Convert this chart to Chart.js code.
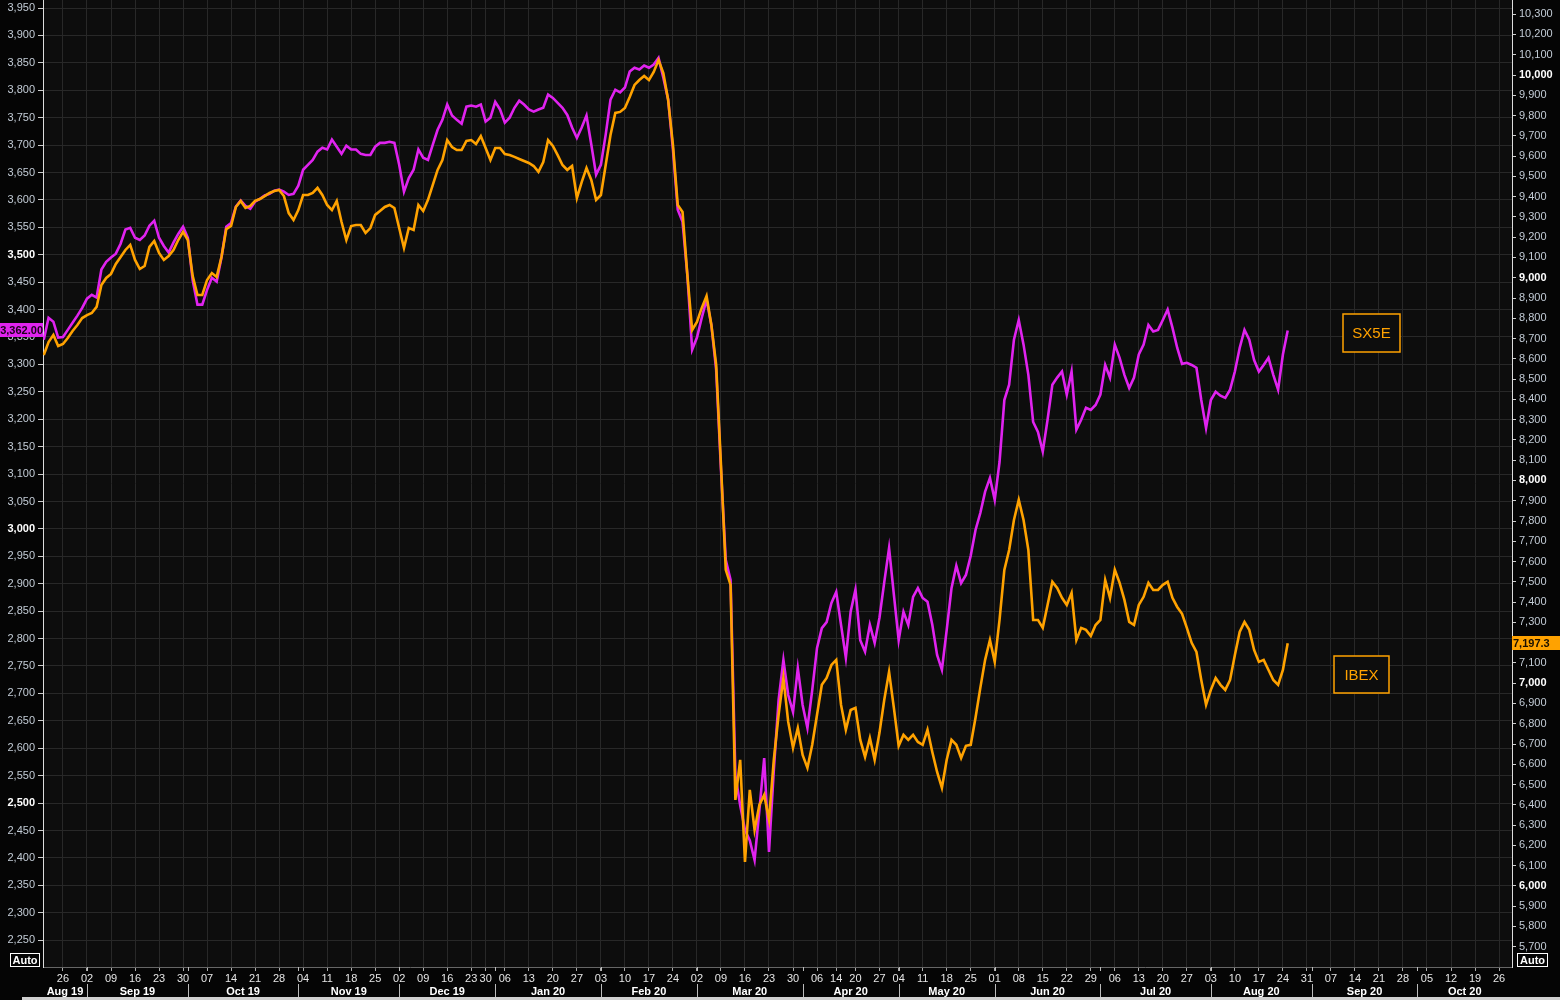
<!DOCTYPE html>
<html>
<head>
<meta charset="utf-8">
<script src="https://cdn.jsdelivr.net/npm/chart.js@4.4.1/dist/chart.umd.min.js"></script>
<style>
  html, body { margin: 0; padding: 0; background: #050505; }
  #wrap { width: 1560px; height: 1000px; }
</style>
</head>
<body>
<div id="wrap"><canvas id="chart" width="1560" height="1000"></canvas></div>
<script>
// x axis = trading-day index, 0 = Mon 26 Aug 2019
const firstDay = -4;

// Euro Stoxx 50 (left axis), one value per trading day from firstDay
const sx5e = [
  3345, 3385, 3378, 3349, 3350, 3363, 3376, 3389, 3403, 3420,
  3427, 3422, 3473, 3487, 3495, 3502, 3520, 3546, 3549, 3531,
  3527, 3535, 3553, 3562, 3531, 3516, 3504, 3522, 3538, 3551,
  3531, 3454, 3409, 3409, 3436, 3458, 3451, 3495, 3551, 3558,
  3588, 3599, 3589, 3584, 3597, 3602, 3608, 3611, 3617, 3619,
  3615, 3609, 3611, 3626, 3655, 3664, 3673, 3688, 3695, 3692,
  3710, 3697, 3684, 3699, 3692, 3692, 3684, 3682, 3682, 3697,
  3704, 3704, 3706, 3704, 3664, 3615, 3640, 3655, 3692, 3677,
  3673, 3701, 3728, 3746, 3774, 3754, 3746, 3739, 3770, 3772,
  3770, 3774, 3743, 3750, 3779, 3765, 3741, 3750, 3768, 3781,
  3774, 3765, 3761, 3765, 3768, 3792, 3786, 3777, 3768, 3755,
  3732, 3713, 3732, 3754, 3701, 3646, 3664, 3719, 3783, 3801,
  3796, 3805, 3834, 3841, 3838, 3845, 3841, 3847, 3859, 3823,
  3783, 3692, 3582, 3560, 3463, 3327, 3349, 3385, 3418, 3372,
  3290, 3108, 2943, 2907, 2551, 2496, 2451, 2432, 2396, 2487,
  2582, 2411, 2560, 2688, 2761, 2697, 2666, 2746, 2679, 2637,
  2706, 2783, 2819, 2830, 2865, 2885, 2825, 2765, 2849, 2889,
  2797, 2776, 2825, 2792, 2838, 2903, 2965, 2880, 2797, 2849,
  2825, 2876, 2892, 2874, 2867, 2825, 2770, 2743, 2816, 2892,
  2933, 2901, 2916, 2951, 2998, 3029, 3068, 3093, 3053, 3122,
  3235, 3263, 3345, 3381, 3336, 3281, 3195, 3177, 3141, 3199,
  3263, 3276, 3287, 3245, 3287, 3181, 3199, 3221, 3217, 3226,
  3245, 3299, 3276, 3336, 3312, 3281, 3257, 3276, 3318, 3336,
  3372, 3360, 3363, 3381, 3400, 3367, 3330, 3301, 3303, 3299,
  3294, 3235, 3184, 3235, 3250, 3243, 3239, 3254, 3287, 3330,
  3363, 3345, 3308, 3287, 3299, 3312, 3281, 3254, 3318, 3362
];

// IBEX 35 (right axis)
const ibex = [
  8619, 8683, 8718, 8663, 8673, 8703, 8737, 8767, 8801, 8816,
  8826, 8856, 8964, 8999, 9019, 9068, 9102, 9137, 9162, 9088,
  9043, 9058, 9152, 9181, 9122, 9088, 9107, 9137, 9186, 9226,
  9186, 9009, 8915, 8915, 8989, 9023, 9004, 9102, 9240, 9255,
  9349, 9379, 9344, 9354, 9379, 9388, 9403, 9418, 9428, 9433,
  9403, 9319, 9285, 9334, 9408, 9408, 9418, 9443, 9408, 9359,
  9334, 9379, 9275, 9186, 9255, 9260, 9260, 9221, 9245, 9310,
  9329, 9349, 9359, 9344, 9245, 9147, 9245, 9236, 9359, 9329,
  9384, 9458, 9532, 9581, 9679, 9645, 9630, 9630, 9675, 9679,
  9660, 9699, 9640, 9581, 9640, 9640, 9610, 9605, 9596, 9586,
  9576, 9566, 9551, 9522, 9571, 9679, 9650, 9605, 9556, 9532,
  9551, 9393, 9472, 9541, 9482, 9384, 9408, 9556, 9704, 9813,
  9818, 9837, 9892, 9951, 9975, 9995, 9975, 10015, 10074, 10010,
  9877, 9655, 9359, 9324, 9014, 8742, 8782, 8851, 8910, 8767,
  8570, 8077, 7559, 7485, 6424, 6622, 6118, 6474, 6276, 6400,
  6449, 6326, 6622, 6844, 7026, 6809, 6681, 6779, 6646, 6582,
  6696, 6844, 6992, 7026, 7090, 7115, 6893, 6770, 6868, 6878,
  6720, 6636, 6730, 6622, 6755, 6918, 7056, 6878, 6691, 6745,
  6720, 6745, 6710, 6696, 6770, 6661, 6562, 6484, 6622, 6720,
  6696, 6631, 6691, 6696, 6829, 6977, 7115, 7213, 7105, 7312,
  7559, 7657, 7805, 7904, 7805, 7657, 7312, 7312, 7273, 7386,
  7500, 7470, 7421, 7386, 7445, 7213, 7273, 7263, 7233, 7287,
  7312, 7509, 7421, 7559, 7495, 7411, 7302, 7287, 7386, 7426,
  7495, 7460, 7460, 7485, 7500, 7421, 7376, 7342, 7273, 7199,
  7154, 7016, 6893, 6967, 7026, 6992, 6967, 7016, 7139, 7253,
  7302, 7263, 7164, 7105, 7115, 7065, 7016, 6992, 7065, 7197.3
];

// weekly ticks (first trading day of each week)
const weekTickDays = [0, 5, 10, 15, 20, 25, 30, 35, 40, 45, 50, 55, 60, 65, 70, 75, 80, 85, 88,
  92, 97, 102, 107, 112, 117, 122, 127, 132, 137, 142, 147, 152, 157, 161, 165, 170, 174, 179,
  184, 189, 194, 199, 204, 209, 214, 219, 224, 229, 234, 239, 244, 249, 254, 259, 264, 269, 274,
  279, 284, 289, 294, 299];
const weekTickLabels = ['26', '02', '09', '16', '23', '30', '07', '14', '21', '28', '04', '11', '18', '25', '02', '09', '16', '23', '30',
  '06', '13', '20', '27', '03', '10', '17', '24', '02', '09', '16', '23', '30', '06', '14', '20', '27', '04', '11',
  '18', '25', '01', '08', '15', '22', '29', '06', '13', '20', '27', '03', '10', '17', '24', '31', '07', '14', '21',
  '28', '05', '12', '19', '26'];

// first trading day of each month, and month names (Aug 19 starts before the chart)
const monthStartDays = [5, 26, 49, 70, 90, 112, 132, 154, 174, 194, 216, 239, 260, 282];
const monthLabels = ['Aug 19', 'Sep 19', 'Oct 19', 'Nov 19', 'Dec 19', 'Jan 20', 'Feb 20', 'Mar 20',
  'Apr 20', 'May 20', 'Jun 20', 'Jul 20', 'Aug 20', 'Sep 20', 'Oct 20'];

const FONT = '"Liberation Sans", Arial, sans-serif';
const MAGENTA = '#e023ef';
const ORANGE = '#ffa200';

const toPoints = arr => arr.map((v, k) => ({ x: firstDay + k, y: v }));
const fmt = v => v.toLocaleString('en-US');

const stepTicks = (from, to, step) => {
  const out = [];
  for (let v = from; v <= to; v += step) out.push({ value: v });
  return out;
};

const overlay = {
  id: 'overlay',
  beforeDraw(chart) {
    const { ctx, chartArea: a } = chart;
    ctx.save();
    ctx.fillStyle = '#050505';
    ctx.fillRect(0, 0, chart.width, chart.height);
    ctx.fillStyle = '#0d0d0d';
    ctx.fillRect(a.left, a.top, a.right - a.left, a.bottom - a.top);
    ctx.restore();
  },
  afterDraw(chart) {
    const { ctx, chartArea: a, scales } = chart;
    const x = scales.x;
    ctx.save();

    // month row
    const bounds = [x.min, ...monthStartDays, x.max];
    ctx.font = 'bold 11px ' + FONT;
    ctx.fillStyle = '#ffffff';
    ctx.textAlign = 'center';
    ctx.textBaseline = 'middle';
    monthLabels.forEach((lab, k) => {
      const x0 = x.getPixelForValue(bounds[k]);
      const x1 = x.getPixelForValue(bounds[k + 1]);
      ctx.fillText(lab, (x0 + x1) / 2, 992);
    });
    ctx.strokeStyle = '#bbbbbb';
    ctx.lineWidth = 1;
    monthStartDays.forEach(d => {
      const px = Math.round(x.getPixelForValue(d)) + 0.5;
      ctx.beginPath();
      ctx.moveTo(px, 984); ctx.lineTo(px, 998);
      ctx.moveTo(px, a.bottom); ctx.lineTo(px, a.bottom + 4);
      ctx.stroke();
    });

    // bottom strip
    ctx.fillStyle = '#cfcfcf';
    ctx.fillRect(22, 997, chart.width - 22, 3);

    // last value tags
    const yl = scales.y.getPixelForValue(sx5e[sx5e.length - 1]);
    ctx.fillStyle = MAGENTA;
    ctx.fillRect(0, Math.round(yl) - 7, a.left, 14);
    ctx.fillStyle = '#1a001a';
    ctx.font = 'bold 11px ' + FONT;
    ctx.textAlign = 'right';
    ctx.fillText(sx5e[sx5e.length - 1].toFixed(2).replace(/\B(?=(\d{3})+(?!\d))/, ','), a.left, Math.round(yl) + 0.5);

    const yr = scales.y1.getPixelForValue(ibex[ibex.length - 1]);
    ctx.fillStyle = ORANGE;
    ctx.fillRect(a.right, Math.round(yr) - 7, chart.width - a.right, 14);
    ctx.fillStyle = '#1a1000';
    ctx.textAlign = 'left';
    ctx.fillText(fmt(ibex[ibex.length - 1]), a.right + 1, Math.round(yr) + 0.5);

    // "Auto" boxes
    ctx.font = 'bold 11px ' + FONT;
    ctx.strokeStyle = '#ffffff';
    ctx.fillStyle = '#ffffff';
    ctx.textAlign = 'center';
    [[10.5, 29], [1517.5, 30]].forEach(([bx, bw]) => {
      ctx.strokeRect(bx, 953.5, bw, 13);
      ctx.fillText('Auto', bx + bw / 2, 960.5);
    });

    // series name boxes
    const nameBox = (text, bx, by, bw, bh) => {
      ctx.fillStyle = '#0d0d0d';
      ctx.fillRect(bx, by, bw, bh);
      ctx.strokeStyle = ORANGE;
      ctx.lineWidth = 1.5;
      ctx.strokeRect(bx, by, bw, bh);
      ctx.fillStyle = ORANGE;
      ctx.font = '15px ' + FONT;
      ctx.textAlign = 'center';
      ctx.fillText(text, bx + bw / 2, by + bh / 2 + 1);
    };
    nameBox('SX5E', 1343, 314, 57, 38);
    nameBox('IBEX', 1334, 656, 55, 37);

    ctx.restore();
  }
};

new Chart(document.getElementById('chart'), {
  type: 'line',
  data: {
    datasets: [
      { label: 'IBEX', data: toPoints(ibex), yAxisID: 'y1', borderColor: ORANGE, borderWidth: 2.6,
        pointRadius: 0, tension: 0, fill: false },
      { label: 'SX5E', data: toPoints(sx5e), yAxisID: 'y', borderColor: MAGENTA, borderWidth: 2.6,
        pointRadius: 0, tension: 0, fill: false }
    ]
  },
  options: {
    responsive: false,
    animation: false,
    layout: { padding: 0 },
    plugins: { legend: { display: false }, tooltip: { enabled: false } },
    scales: {
      x: {
        type: 'linear',
        position: 'bottom',
        min: -4.16,
        max: 301.7,
        afterBuildTicks: s => { s.ticks = weekTickDays.map(v => ({ value: v })); },
        afterFit: s => { s.height = 33; s.paddingLeft = 0; s.paddingRight = 0; },
        ticks: {
          autoSkip: false, maxRotation: 0, minRotation: 0, padding: 1,
          color: '#e6e6e6', font: { family: FONT, size: 11 },
          callback: v => { const k = weekTickDays.indexOf(v); return k >= 0 ? weekTickLabels[k] : ''; }
        },
        grid: { color: '#282828', tickColor: '#aaaaaa', tickLength: 4 },
        border: { color: '#666666' }
      },
      y: {
        position: 'left',
        min: 2201,
        max: 3964.6,
        afterBuildTicks: s => { s.ticks = stepTicks(2250, 3950, 50); },
        afterFit: s => { s.width = 43; s.paddingTop = 0; s.paddingBottom = 0; },
        ticks: {
          padding: 3,
          callback: v => fmt(v),
          color: c => (c.tick && c.tick.value % 500 === 0) ? '#ffffff' : '#c3ccd6',
          font: c => ({ family: FONT, size: 11, weight: (c.tick && c.tick.value % 500 === 0) ? 'bold' : 'normal' })
        },
        grid: { color: '#282828', tickColor: '#cccccc', tickLength: 5 },
        border: { color: '#dddddd' }
      },
      y1: {
        position: 'right',
        min: 5600,
        max: 10370,
        afterBuildTicks: s => { s.ticks = stepTicks(5700, 10300, 100); },
        afterFit: s => { s.width = 48; s.paddingTop = 0; s.paddingBottom = 0; },
        ticks: {
          padding: 3,
          callback: v => fmt(v),
          color: c => (c.tick && c.tick.value % 1000 === 0) ? '#ffffff' : '#c3ccd6',
          font: c => ({ family: FONT, size: 11, weight: (c.tick && c.tick.value % 1000 === 0) ? 'bold' : 'normal' })
        },
        grid: { drawOnChartArea: false, tickColor: '#cccccc', tickLength: 4 },
        border: { color: '#dddddd' }
      }
    }
  },
  plugins: [overlay]
});
</script>
</body>
</html>
